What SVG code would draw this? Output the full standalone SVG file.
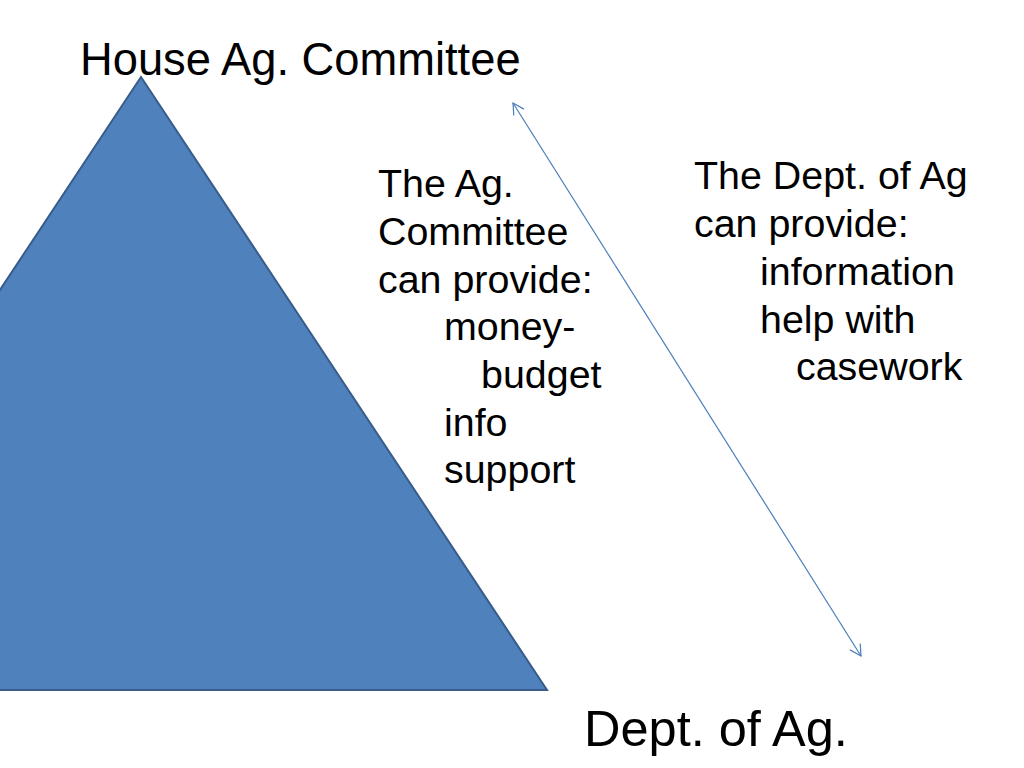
<svg xmlns="http://www.w3.org/2000/svg" width="1024" height="768" viewBox="0 0 1024 768">
  <style>
    text { font-family: "Liberation Sans", Arial, sans-serif; fill: #000000; }
    .body { font-size: 39.4px; }
    .conn { stroke: #4a7ebb; stroke-width: 1.2; fill: none; }
  </style>
  <defs>
    <marker id="open" markerWidth="14" markerHeight="14" refX="12" refY="7" orient="auto-start-reverse" markerUnits="userSpaceOnUse">
      <path d="M1,1 L12,7 L1,13" fill="none" stroke="#4a7ebb" stroke-width="1.2"/>
    </marker>
  </defs>
  <rect width="1024" height="768" fill="#ffffff"/>

  <g id="triangle">
    <polygon points="141,77 547,690 -265,690" fill="#4f81bd" stroke="#385d8a" stroke-width="2" stroke-linejoin="miter"/>
  </g>

  <g id="connectors">
    <line class="conn" x1="513" y1="103" x2="861" y2="656" marker-start="url(#open)" marker-end="url(#open)"/>
  </g>

  <g id="house-label">
    <text x="80" y="75" font-size="45.3">House Ag. Committee</text>
  </g>

  <g id="committee-provides">
    <text class="body" x="378" y="197">The Ag.</text>
    <text class="body" x="378" y="245">Committee</text>
    <text class="body" x="378" y="293">can provide:</text>
    <text class="body" x="444" y="340">money-</text>
    <text class="body" x="481" y="388">budget</text>
    <text class="body" x="444" y="436">info</text>
    <text class="body" x="444" y="483">support</text>
  </g>

  <g id="dept-provides">
    <text class="body" x="694" y="189">The Dept. of Ag</text>
    <text class="body" x="694" y="237">can provide:</text>
    <text class="body" x="760" y="285">information</text>
    <text class="body" x="760" y="333">help with</text>
    <text class="body" x="796" y="380">casework</text>
  </g>

  <g id="dept-label">
    <text x="584" y="746" font-size="50.5">Dept. of Ag.</text>
  </g>
</svg>
